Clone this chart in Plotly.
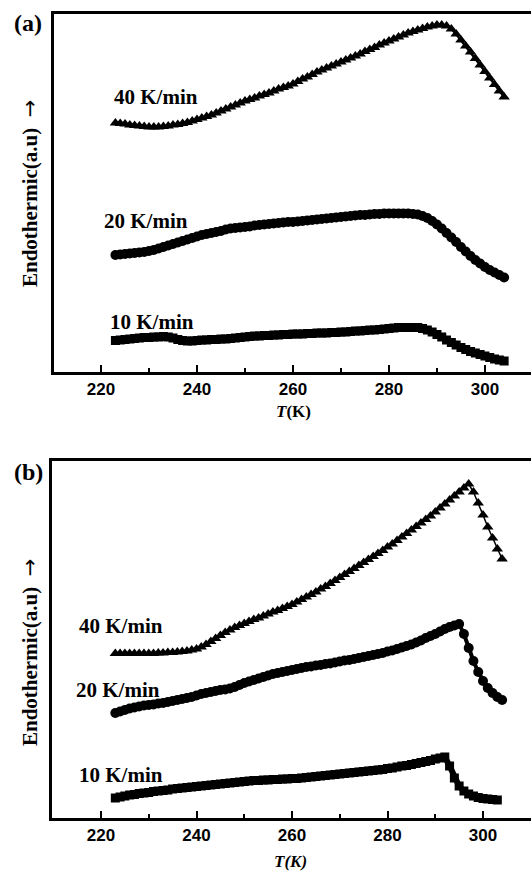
import plotly.graph_objects as go

W, H = 531, 872

# Temperature grid (K)
T = list(range(223, 305))

# Panel (a) – heights in arbitrary units
a_40 = [249, 248.5, 248, 247, 246.5, 246, 245.5, 245, 245, 245, 245.5, 246, 247, 247.5, 248.5, 249.5,
        251, 252.5, 254, 255.5, 257, 259, 261, 263, 265, 267, 269, 271, 272.5, 274, 276, 277.5, 279,
        281, 283, 284.5, 286, 288, 290.5, 293, 295, 297.5, 300, 302, 304, 306, 308, 310, 312, 314, 316,
        318, 320.5, 322.5, 324.5, 327, 329, 331, 333, 335, 337, 339, 340.5, 342, 343.5, 345, 346, 347,
        347, 346, 343, 338, 332, 326, 320, 313.5, 307, 300.5, 294, 287.5, 281, 275]
a_20 = [117, 117.5, 118, 118.5, 119, 119.5, 120, 121, 122, 123.5, 125, 126.5, 128, 129.5, 131, 132.5,
        134, 135.5, 137, 138, 139, 140, 141, 142.5, 143.5, 144, 144.5, 145, 145.5, 146.5, 147, 147.5,
        148, 148.5, 149, 149.5, 150, 150, 150.5, 151, 151.5, 152, 152.5, 153, 153.5, 154, 154.5, 155,
        155.5, 156, 156.5, 157, 157, 157.5, 158, 158, 158.5, 158.5, 158.5, 158.5, 158.5, 158.5, 158,
        157.5, 156, 154, 151, 147.5, 143.5, 139, 134.5, 130, 125, 120.5, 116, 112, 108.5, 105, 102,
        99.5, 97, 94.5]
a_10 = [31.5, 32, 32.5, 33, 33.5, 34, 34.5, 34.5, 35, 35, 35.5, 35, 34, 32.5, 31.5, 31, 31, 31.5, 32,
        32, 32.5, 32.5, 33, 33, 33.5, 34, 34.5, 35, 35.5, 36, 36, 36.5, 36.5, 37, 37, 37.5, 37.5, 38,
        38, 38, 38.5, 38.5, 39, 39, 39, 39.5, 39.5, 40, 40, 40.5, 41, 41, 41.5, 42, 42, 42.5, 43, 43.5,
        44, 44.5, 44.5, 44.5, 44.5, 44.5, 43.5, 42, 40, 37.5, 35, 32, 29.5, 27, 24.5, 22.5, 20.5, 19,
        17.5, 16, 14.5, 13, 12, 11]

# Panel (b)
b_40 = [164.5, 164.5, 164.5, 164.5, 164.5, 164.5, 164.5, 164.5, 164.5, 165, 165, 165.5, 165.5, 166,
        166.5, 167, 168, 169, 171, 173.5, 176.5, 179.5, 182.5, 185.5, 188, 190.5, 192.5, 194.5, 196.5,
        198.5, 200, 202, 204, 206, 207.5, 209.5, 211.5, 213.5, 216, 218.5, 221, 223.5, 226, 229,
        231.5, 234.5, 237.5, 240.5, 243.5, 246.5, 249.5, 252.5, 255.5, 258.5, 261.5, 264.5, 267.5,
        271, 274, 277.5, 281, 284.5, 288, 291.5, 295, 298.5, 302, 306, 310, 314, 318, 322, 326,
        330, 334, 326, 315, 303, 291, 280, 269, 259]
b_20 = [105, 106.5, 108, 109.5, 110.5, 111.5, 112.5, 113, 113.5, 114.5, 115, 116, 117, 118, 119, 120,
        121, 122.5, 124, 125, 126, 127, 128, 128.5, 129.5, 131, 133, 135, 136.5, 138, 139.5, 141,
        142.5, 144, 145, 146, 147, 148, 149, 150, 151, 151.5, 152.5, 153, 154, 154.5, 155.5, 156.5,
        157.5, 158, 159, 160, 161, 162, 163, 164, 165, 166.5, 167.5, 169, 170.5, 172, 173.5, 175.5,
        177.5, 180, 182, 184, 186.5, 189, 191, 192.5, 194, 184, 170, 157, 146, 137, 130, 125, 121, 118]
b_10 = [20, 21, 22, 23, 23.5, 24.5, 25, 25.5, 26.5, 27, 27.5, 28, 29, 29.5, 30, 30.5, 31, 31.5, 32,
        32.5, 33, 33.5, 34, 34.5, 35, 35.5, 36, 36.5, 37, 37.5, 37.5, 38, 38, 38.5, 38.5, 39, 39, 39.5,
        39.5, 40, 40.5, 41, 41.5, 42, 42.5, 43, 43.5, 44, 44.5, 45, 45.5, 46, 46.5, 47, 47.5, 48,
        48.5, 49.5, 50, 51, 52, 52.5, 53.5, 54.5, 55.5, 56.5, 57.5, 59, 60, 61, 52, 40, 32, 27, 24,
        22, 20.5, 19.5, 19, 18.5, 18]

rate_labels = ["40 K/min", "20 K/min", "10 K/min"]
x_ticks = [220, 240, 260, 280, 300]

fig = go.Figure()

def add_series(x, y, xa, ya, symbol, size, lw):
    fig.add_trace(go.Scatter(
        x=x, y=y, xaxis=xa, yaxis=ya, mode="lines+markers",
        line=dict(color="black", width=lw),
        marker=dict(symbol=symbol, size=size, color="black", line=dict(width=0)),
        showlegend=False, hoverinfo="skip"))

add_series(T, a_40, "x", "y", "triangle-up", 10, 2.5)
add_series(T, a_20, "x", "y", "circle", 10, 4)
add_series(T, a_10, "x", "y", "square", 9, 6)
add_series(T, b_40, "x2", "y2", "triangle-up", 10, 1.5)
add_series(T, b_20, "x2", "y2", "circle", 10, 4)
add_series(T, b_10, "x2", "y2", "square", 9, 6)

def px(x):
    return x / W

def py(y):
    return 1 - y / H

tickfont = dict(family="Liberation Sans", size=17, color="black", weight="bold")
xcommon = dict(
    tickmode="array", tickvals=x_ticks, ticktext=[str(v) for v in x_ticks],
    ticks="inside", ticklen=7, tickwidth=2, tickcolor="black",
    minor=dict(tickvals=[230, 250, 270, 290], ticks="inside", ticklen=4, tickwidth=2, tickcolor="black"),
    showline=True, linecolor="black", linewidth=2.5, mirror=True,
    showgrid=False, zeroline=False, tickfont=tickfont, fixedrange=True)
ycommon = dict(showline=True, linecolor="black", linewidth=2.5, mirror=False,
               showticklabels=False, ticks="", showgrid=False, zeroline=False, fixedrange=True)

fig.update_layout(
    width=W, height=H,
    margin=dict(l=0, r=0, t=0, b=0),
    paper_bgcolor="white", plot_bgcolor="white",
    xaxis=dict(domain=[px(54), 1.0], range=[210.2, 309.6], anchor="y", **xcommon),
    yaxis=dict(domain=[py(372), py(14)], range=[0, 358], anchor="x", **ycommon),
    xaxis2=dict(domain=[px(52), 1.0], range=[209.74, 310.05], anchor="y2", **xcommon),
    yaxis2=dict(domain=[py(818), py(461)], range=[0, 357], anchor="x2", **ycommon),
)

serif_b = dict(family="Liberation Serif", size=21, color="black", weight="bold")
letter_f = dict(family="Liberation Serif", size=24, color="black", weight="bold")
ann = []
# panel letters
ann.append(dict(x=px(28), y=py(23), text="(a)", font=letter_f))
ann.append(dict(x=px(28), y=py(472), text="(b)", font=letter_f))
# rate labels panel a
for lab, (cx, cy) in zip(rate_labels, [(156, 97), (146, 221), (152, 322)]):
    ann.append(dict(x=px(cx), y=py(cy), text="<b>" + lab + "</b>", font=serif_b))
# rate labels panel b
for lab, (cx, cy) in zip(rate_labels, [(121, 626), (118, 690), (121, 775)]):
    ann.append(dict(x=px(cx), y=py(cy), text="<b>" + lab + "</b>", font=serif_b))
# axis titles
ann.append(dict(x=px(293), y=py(412), text="<b><i>T</i>(K)</b>", font=dict(family="Liberation Serif", size=17, color="black")))
ann.append(dict(x=px(291), y=py(861), text="<b><i>T(K)</i></b>", font=dict(family="Liberation Serif", size=17, color="black")))
ytitle = ("<b>Endothermic(a.u)</b>  <span style='font-family:DejaVu Sans;font-weight:normal'>"
          "\u2192</span>")
ann.append(dict(x=px(30), y=py(194), text=ytitle, textangle=-90,
                font=dict(family="Liberation Serif", size=21, color="black")))
ann.append(dict(x=px(30), y=py(653), text=ytitle, textangle=-90,
                font=dict(family="Liberation Serif", size=21, color="black")))

for a in ann:
    a.update(xref="paper", yref="paper", showarrow=False, xanchor="center", yanchor="middle")
fig.update_layout(annotations=ann)

fig.write_html("out.html")
